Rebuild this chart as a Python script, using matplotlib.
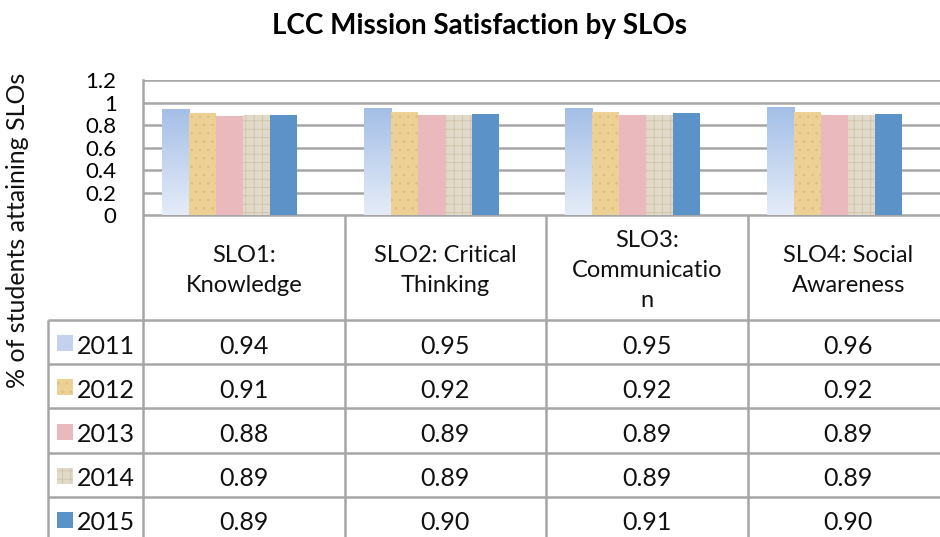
import numpy as np
import matplotlib
matplotlib.use("Agg")
import matplotlib.pyplot as plt
from matplotlib.patches import Rectangle

plt.rcParams['font.family'] = ['Lato', 'DejaVu Sans']
plt.rcParams['hatch.linewidth'] = 0.5

# data
categories = ["SLO1:\nKnowledge", "SLO2: Critical\nThinking",
              "SLO3:\nCommunicatio\nn", "SLO4: Social\nAwareness"]
years = ["2011", "2012", "2013", "2014", "2015"]
v2011 = [0.94, 0.95, 0.95, 0.96]
v2012 = [0.91, 0.92, 0.92, 0.92]
v2013 = [0.88, 0.89, 0.89, 0.89]
v2014 = [0.89, 0.89, 0.89, 0.89]
v2015 = [0.89, 0.90, 0.91, 0.90]
series = [v2011, v2012, v2013, v2014, v2015]
yticks = [0, 0.2, 0.4, 0.6, 0.8, 1.0, 1.2]
ytick_labels = ["0", "0.2", "0.4", "0.6", "0.8", "1", "1.2"]

# styles
face = ['#C3D3EF', '#EDD194', '#E9B9BD', '#E2DAC8', '#5B93C9']
hatch = [None, '..', None, '++', None]
hatch_col = [None, '#DDBD7C', None, '#CBBFA6', None]
grid_col = '#A6A6A6'

# layout in pixels
W, H = 940, 537
plot_left, plot_top, plot_bottom = 143, 80, 215
col_w = 201.5
head_bottom = 320
row_h = 44.2
legend_left = 48


def fx(px):
    return px / W


def fy(py):
    return 1 - py / H


fig = plt.figure(figsize=(W / 100, H / 100), dpi=100)
ax = fig.add_axes([fx(plot_left), fy(plot_bottom),
                   4 * col_w / W, (plot_bottom - plot_top) / H])

x = np.arange(len(categories))
bar_w = 0.134
offset = -0.07
for i, vals in enumerate(series):
    pos = x + offset + (i - 2) * bar_w
    if i == 0:
        # light blue gradient bars
        grad = np.linspace(0, 1, 100).reshape(-1, 1)
        cmap = matplotlib.colors.LinearSegmentedColormap.from_list(
            'g', ['#E5ECF8', '#A4BFE7'])
        for p, v in zip(pos, vals):
            ax.imshow(grad, extent=[p - bar_w / 2, p + bar_w / 2, 0, v],
                      origin='lower', aspect='auto', cmap=cmap, zorder=2)
    else:
        bars = ax.bar(pos, vals, width=bar_w, color=face[i], zorder=2,
                      linewidth=0)
        if hatch[i]:
            for b in bars:
                b.set_hatch(hatch[i])
                b.set_edgecolor(hatch_col[i])

ax.set_xlim(-0.5, len(categories) - 0.5)
ax.set_ylim(0, 1.2)
ax.set_yticks(yticks)
ax.set_yticklabels(ytick_labels)
ax.set_xticks([])
ax.yaxis.grid(True, color=grid_col, linewidth=1.8)
ax.set_axisbelow(True)
for s in ['top', 'right', 'bottom']:
    ax.spines[s].set_visible(False)
ax.spines['left'].set_color(grid_col)
ax.spines['left'].set_linewidth(1.8)
ax.tick_params(axis='y', length=0, pad=19, labelsize=16)

# data table on an overlay in pixel coordinates
ov = fig.add_axes([0, 0, 1, 1], zorder=-1)
ov.set_xlim(0, W)
ov.set_ylim(H, 0)
ov.axis('off')

n_rows = len(years)
table_bottom = head_bottom + row_h * n_rows
col_edges = [plot_left + col_w * k for k in range(len(categories) + 1)]
lkw = dict(color=grid_col, linewidth=1.8, solid_capstyle='butt')
for k, xe in enumerate(col_edges):
    ov.plot([xe, xe], [plot_bottom, table_bottom], **lkw)
ov.plot([legend_left, legend_left], [head_bottom, table_bottom], **lkw)
ov.plot([plot_left, col_edges[-1]], [plot_bottom, plot_bottom], **lkw)
for r in range(n_rows):
    yl = head_bottom + row_h * r
    ov.plot([legend_left, col_edges[-1]], [yl, yl], **lkw)

# header cells
for k, cat in enumerate(categories):
    cx = plot_left + col_w * (k + 0.5)
    ov.text(cx, (plot_bottom + head_bottom) / 2 + 3, cat, ha='center',
            va='center', fontsize=17, linespacing=1.55, color='#111111')

# rows
for r, (yr, vals) in enumerate(zip(years, series)):
    cy = head_bottom + row_h * (r + 0.5) + 4
    sw = 16
    ov.add_patch(Rectangle((57, cy - sw / 2 - 3), sw, sw, facecolor=face[r],
                           hatch=hatch[r], edgecolor=hatch_col[r] or face[r],
                           linewidth=0))
    ov.text(77, cy, yr, ha='left', va='center', fontsize=18,
            color='#111111')
    for k, v in enumerate(vals):
        cx = plot_left + col_w * (k + 0.5)
        ov.text(cx, cy, f"{v:.2f}", ha='center', va='center',
                fontsize=18, color='#111111')

fig.text(fx(480), fy(26), "LCC Mission Satisfaction by SLOs", ha='center',
         va='center', fontsize=20, fontweight='bold', color='#000000')
fig.text(fx(18), fy(230), "% of students attaining SLOs", ha='center',
         va='center', rotation=90, fontsize=18, color='#111111')

fig.savefig("out.png", dpi=100)
